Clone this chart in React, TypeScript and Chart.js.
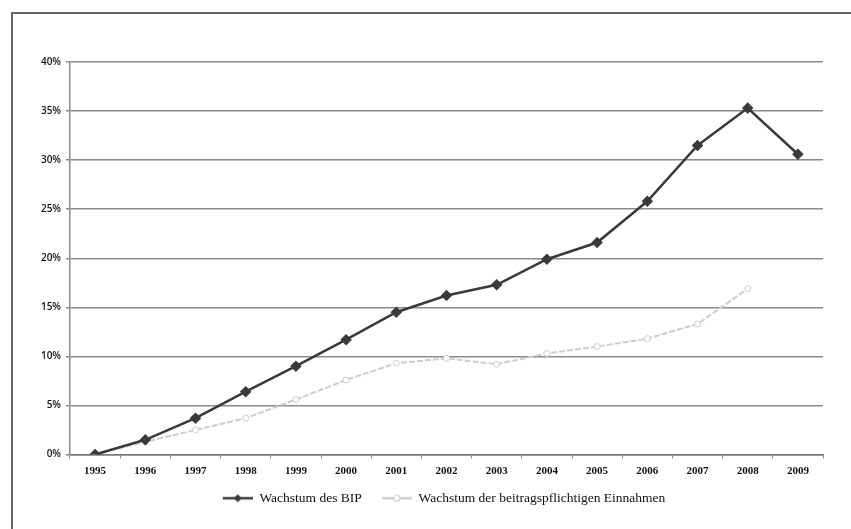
import React, { useEffect, useRef } from "react";
import { Chart, registerables } from "chart.js";

Chart.register(...registerables);

const years = ["1995","1996","1997","1998","1999","2000","2001","2002","2003","2004","2005","2006","2007","2008","2009"];
const bipGrowth = [0, 1.5, 3.7, 6.4, 9.0, 11.7, 14.5, 16.2, 17.3, 19.9, 21.6, 25.8, 31.5, 35.3, 30.6];
const incomeGrowth = [0, 1.3, 2.5, 3.7, 5.6, 7.6, 9.3, 9.8, 9.2, 10.3, 11.0, 11.8, 13.3, 16.9, null];
const seriesNames = ["Wachstum des BIP", "Wachstum der beitragspflichtigen Einnahmen"];

const DARK = "#3a3a3a";
const LIGHT = "#cdcdcd";

function legendIcon(color: string, marker: "diamond" | "circle"): HTMLCanvasElement {
  const c = document.createElement("canvas");
  c.width = 38;
  c.height = 10;
  const ctx = c.getContext("2d")!;
  const x0 = 8;
  ctx.strokeStyle = color;
  ctx.lineWidth = 2.5;
  ctx.beginPath();
  ctx.moveTo(x0, 5);
  ctx.lineTo(38, 5);
  ctx.stroke();
  const cx = x0 + 15;
  if (marker === "diamond") {
    ctx.fillStyle = color;
    ctx.beginPath();
    ctx.moveTo(cx, 1);
    ctx.lineTo(cx + 4, 5);
    ctx.lineTo(cx, 9);
    ctx.lineTo(cx - 4, 5);
    ctx.closePath();
    ctx.fill();
  } else {
    ctx.fillStyle = "#ffffff";
    ctx.lineWidth = 1.2;
    ctx.beginPath();
    ctx.arc(cx, 5, 3, 0, Math.PI * 2);
    ctx.fill();
    ctx.stroke();
  }
  return c;
}

const legendShift = {
  id: "legendShift",
  afterLayout(chart: any) {
    const l = chart.legend;
    if (l) {
      l.left += 57;
    }
  },
};

export default function App() {
  const ref = useRef<HTMLCanvasElement | null>(null);
  useEffect(() => {
    if (!ref.current) return;
    const icons = [legendIcon(DARK, "diamond"), legendIcon(LIGHT, "circle")];
    const chart = new Chart(ref.current, {
      type: "line",
      data: {
        labels: years,
        datasets: [
          {
            label: seriesNames[0],
            data: bipGrowth,
            borderColor: DARK,
            backgroundColor: DARK,
            borderWidth: 2.5,
            pointStyle: "rectRot",
            pointRadius: 4,
            pointBackgroundColor: DARK,
            pointBorderColor: DARK,
            tension: 0,
          },
          {
            label: seriesNames[1],
            data: incomeGrowth,
            borderColor: LIGHT,
            backgroundColor: "#ffffff",
            borderWidth: 2,
            borderDash: [6, 2],
            pointStyle: "circle",
            pointRadius: 3,
            pointBorderWidth: 1,
            pointBackgroundColor: "#ffffff",
            pointBorderColor: LIGHT,
            tension: 0,
            spanGaps: false,
          },
        ],
      },
      options: {
        animation: false,
        responsive: false,
        maintainAspectRatio: false,
        layout: { padding: { left: 0, top: 62, right: 28, bottom: 14 } },
        plugins: {
          tooltip: { enabled: false },
          legend: {
            position: "bottom",
            labels: {
              usePointStyle: true,
              pointStyleWidth: 38,
              padding: 12,
              color: "#111",
              font: { family: "'Liberation Serif', serif", size: 13.5 },
              generateLabels: (ch: any) =>
                ch.data.datasets.map((d: any, i: number) => ({
                  text: d.label,
                  pointStyle: icons[i],
                  fillStyle: d.borderColor,
                  strokeStyle: d.borderColor,
                  lineWidth: 0,
                  hidden: false,
                  datasetIndex: i,
                  fontColor: "#111",
                })),
            },
          },
        },
        scales: {
          x: {
            offset: true,
            grid: {
              display: true,
              drawOnChartArea: false,
              drawTicks: true,
              tickLength: 4,
              color: "#888",
              offset: true,
            },
            border: { color: "#777", width: 1.5 },
            ticks: {
              color: "#111",
              padding: 6,
              maxRotation: 0,
              font: { family: "'Liberation Serif', serif", size: 11, weight: "bold" },
            },
            afterFit: (s: any) => {
              s.height = 25;
            },
          },
          y: {
            min: 0,
            max: 40,
            ticks: {
              stepSize: 5,
              color: "#111",
              padding: 5,
              font: { family: "'Open Sans', sans-serif", size: 10, weight: "600" },
              callback: (v: any) => v + "%",
            },
            grid: {
              color: "#8a8a8a",
              lineWidth: 1.5,
              tickLength: 4,
            },
            border: { color: "#8a8a8a", width: 1.5 },
            afterFit: (s: any) => {
              s.width = 70;
            },
          },
        },
      },
      plugins: [legendShift],
    });
    return () => chart.destroy();
  }, []);
  return (
    <div style={{ position: "fixed", left: 0, top: 0, width: 851, height: 529, background: "#fff" }}>
      <div
        style={{
          position: "absolute",
          left: 11,
          top: 12,
          width: 840,
          height: 517,
          borderTop: "2px solid #666",
          borderLeft: "2px solid #666",
          boxSizing: "border-box",
        }}
      />
      <canvas ref={ref} width={851} height={529} style={{ position: "absolute", left: 0, top: 0, width: 851, height: 529 }} />
    </div>
  );
}
